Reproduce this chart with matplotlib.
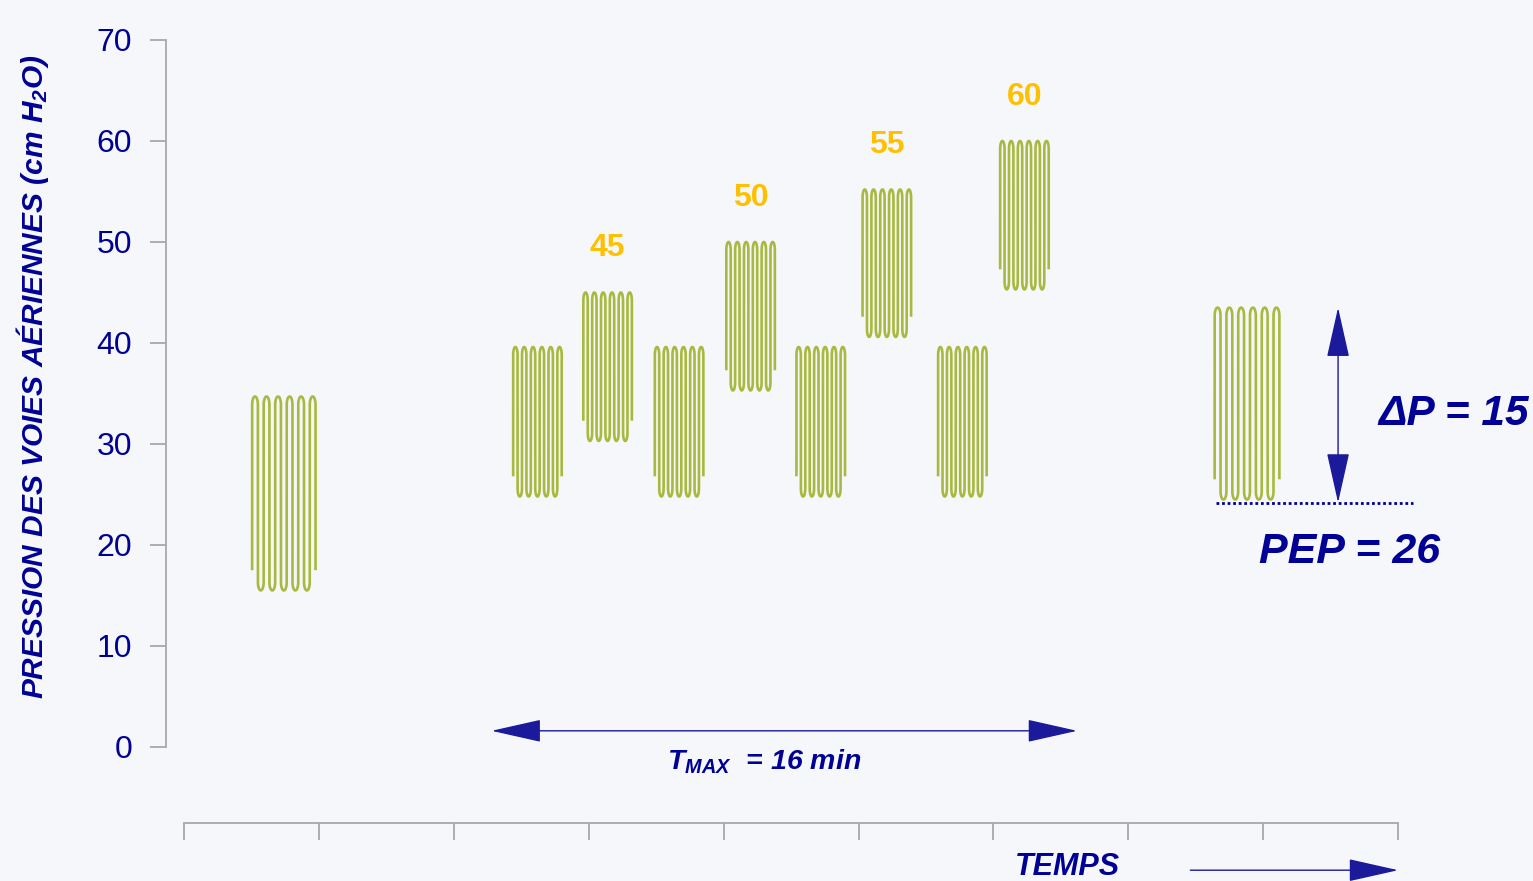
import numpy as np
import matplotlib
matplotlib.use("Agg")
import matplotlib.pyplot as plt
from matplotlib import font_manager

# Donnees
temps_blocs = [0.74, 2.62, 3.14, 3.67, 4.20, 4.72, 5.21, 5.77, 6.23, 7.88]
pression_max = [34.7, 39.6, 45.0, 39.6, 50.0, 39.6, 55.2, 39.6, 60.0, 43.5]
pression_min = [15.5, 24.8, 30.3, 24.8, 35.3, 24.8, 40.6, 24.8, 45.3, 24.5]
largeur_blocs = [0.47, 0.36, 0.36, 0.36, 0.36, 0.36, 0.36, 0.36, 0.36, 0.48]
etiquettes_paliers = {2: "45", 4: "50", 6: "55", 8: "60"}

y_ticks = [0, 10, 20, 30, 40, 50, 60, 70]
x_ticks = list(range(10))

tmax_debut, tmax_fin, tmax_niveau = 2.28, 6.62, 1.6
pep, delta_p_haut, x_delta = 24.2, 43.5, 8.555
pep_debut, pep_fin = 7.65, 9.11

NAVY = "#000096"
VERT = "#a9b93f"
GRIS = "#a8a8a8"

dispo = {f.name for f in font_manager.fontManager.ttflist}
etroite = "Liberation Sans Narrow" if "Liberation Sans Narrow" in dispo else "Liberation Sans"

plt.rcParams["font.family"] = ["Liberation Sans", "DejaVu Sans"]
plt.rcParams["mathtext.fontset"] = "custom"
plt.rcParams["mathtext.rm"] = "Liberation Sans:bold:italic"
plt.rcParams["mathtext.it"] = "Liberation Sans:bold:italic"


def serpentin(xc, bas, haut, largeur, n=6, talon=2.0, coiffe=0.8):
    # courbe en "ressort" : 2n traits verticaux relies par des demi-ellipses
    xs_traits = xc - largeur / 2 + np.arange(2 * n) * largeur / (2 * n - 1)
    s = xs_traits[1] - xs_traits[0]
    X, Y = [xs_traits[0]], [bas + talon]
    th_h = np.linspace(np.pi, 0, 20)
    th_b = np.linspace(np.pi, 2 * np.pi, 20)
    for k in range(2 * n - 1):
        cx = (xs_traits[k] + xs_traits[k + 1]) / 2
        if k % 2 == 0:
            X += list(cx + s / 2 * np.cos(th_h))
            Y += list(haut - coiffe + coiffe * np.sin(th_h))
        else:
            X += list(cx + s / 2 * np.cos(th_b))
            Y += list(bas + coiffe + coiffe * np.sin(th_b))
    X.append(xs_traits[-1])
    Y.append(bas + talon)
    return X, Y


fig = plt.figure(figsize=(15.33, 8.81), dpi=100)
fig.patch.set_facecolor("#f6f7fa")
ax = fig.add_axes([0, 0, 1, 1])
ax.set_facecolor("#f6f7fa")
ax.set_xlim(-1.364, 10.0)
ax.set_ylim(-13.27, 73.96)

for i, (xc, lo, hi, w) in enumerate(zip(temps_blocs, pression_min, pression_max, largeur_blocs)):
    X, Y = serpentin(xc, lo, hi, w)
    ax.plot(X, Y, color=VERT, lw=1.9, solid_capstyle="butt")
    if i in etiquettes_paliers:
        ax.annotate(etiquettes_paliers[i], (xc, hi), xytext=(0, 21), textcoords="offset points",
                    ha="center", va="bottom", color="#ffc000", fontsize=23, fontweight="bold")

# axes
for cote in ["top", "right"]:
    ax.spines[cote].set_visible(False)
ax.spines["left"].set_position(("data", -0.133))
ax.spines["left"].set_bounds(0, 70)
ax.spines["bottom"].set_position(("data", -7.52))
ax.spines["bottom"].set_bounds(0, 9)
for cote in ["left", "bottom"]:
    ax.spines[cote].set_color(GRIS)
    ax.spines[cote].set_linewidth(1.3)
ax.set_yticks(y_ticks)
ax.set_xticks(x_ticks)
ax.set_xticklabels([])
ax.tick_params(axis="y", length=11.5, width=1.3, color=GRIS, pad=13, labelsize=23, labelcolor=NAVY)
ax.tick_params(axis="x", length=12, width=1.3, color=GRIS)

ax.text(0.0215, 0.572, "PRESSION DES VOIES AÉRIENNES (cm H$\\mathregular{_2}$O)",
        transform=ax.transAxes, rotation=90, ha="center", va="center",
        fontsize=21.5, fontweight="bold", fontstyle="italic", color=NAVY, family=etroite)

# T max
fleche = dict(arrowstyle="<|-|>,head_length=1.6,head_width=0.36", color="#1a1a9a",
              lw=1.0, shrinkA=0, shrinkB=0, mutation_scale=20)
ax.annotate("", xy=(tmax_fin, tmax_niveau), xytext=(tmax_debut, tmax_niveau), arrowprops=fleche)
ax.text((tmax_debut + tmax_fin) / 2 - 0.15, -1.5, "$\\mathregular{T_{MAX}}$  = 16 min",
        ha="center", va="center", fontsize=20.5, fontweight="bold", fontstyle="italic", color=NAVY)

# delta P et PEP
ax.annotate("", xy=(x_delta, delta_p_haut), xytext=(x_delta, pep), arrowprops=fleche)
ax.plot([pep_debut, pep_fin], [pep, pep], color=NAVY, lw=2, linestyle=(0, (1, 1)))
ax.text(9.41, 33.0, "ΔP = 15", ha="center", va="center", fontsize=30.5,
        fontweight="bold", fontstyle="italic", color=NAVY)
ax.text(8.64, 19.3, "PEP = 26", ha="center", va="center", fontsize=31,
        fontweight="bold", fontstyle="italic", color=NAVY)

# TEMPS
ax.text(6.55, -11.9, "TEMPS", ha="center", va="center", fontsize=22,
        fontweight="bold", fontstyle="italic", color=NAVY, family=etroite)
ax.annotate("", xy=(9.0, -12.2), xytext=(7.46, -12.2),
            arrowprops=dict(arrowstyle="-|>,head_length=1.6,head_width=0.36", color="#1a1a9a",
                            lw=1.0, shrinkA=0, shrinkB=0, mutation_scale=20))

fig.savefig("out.png", dpi=100, facecolor=fig.get_facecolor())
